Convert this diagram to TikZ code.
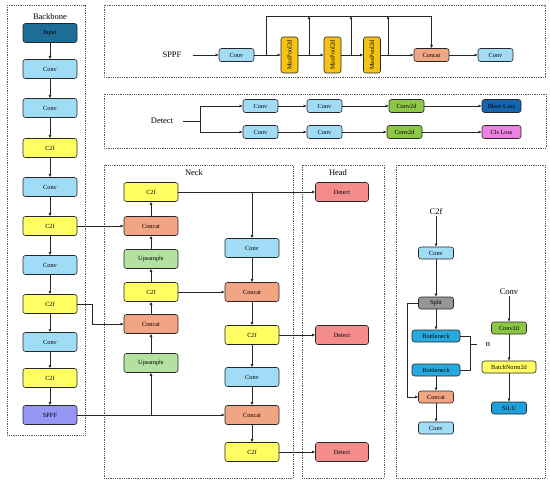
\documentclass[tikz,border=0pt]{standalone}
\usepackage{fontspec}
\setmainfont{Liberation Serif}
\usetikzlibrary{arrows.meta}
\definecolor{cinput}{RGB}{28,110,150}
\definecolor{cconv}{RGB}{160,220,245}
\definecolor{cctwof}{RGB}{255,255,100}
\definecolor{csppf}{RGB}{150,150,245}
\definecolor{cconcat}{RGB}{242,165,130}
\definecolor{cup}{RGB}{180,225,160}
\definecolor{cdet}{RGB}{245,140,140}
\definecolor{cmp}{RGB}{245,195,20}
\definecolor{cconvtd}{RGB}{140,200,70}
\definecolor{cbbox}{RGB}{20,100,175}
\definecolor{ccls}{RGB}{235,130,225}
\definecolor{csplit}{RGB}{150,150,150}
\definecolor{cbott}{RGB}{40,170,225}
\definecolor{csilu}{RGB}{30,160,220}
\tikzset{
  blk/.style={draw=black!85, line width=0.6pt, rounded corners=2.5pt, inner sep=0pt, font=\fontsize{6.3}{7}\selectfont},
  bb/.style={blk, minimum width=54pt, minimum height=19pt},
  sm/.style={blk, minimum width=35pt, minimum height=13pt},
  mp/.style={blk, fill=cmp, rotate=90, minimum width=36pt, minimum height=17pt},
  arr/.style={-{Latex[length=3.2pt,width=3.2pt]}, line width=0.6pt, draw=black!85},
  ln/.style={line width=0.6pt, draw=black!85},
  frame/.style={draw=gray!70!black, densely dotted, line width=0.8pt},
  lbl/.style={font=\fontsize{8.5}{9}\selectfont, inner sep=1pt}
}
\begin{document}
\begin{tikzpicture}[x=1pt,y=-1pt]
\useasboundingbox (0,0) rectangle (550,487);
% frames
\draw[frame] (7,5) rectangle (85,435);
\draw[frame] (104,5) rectangle (545,77);
\draw[frame] (104,94) rectangle (546,148);
\draw[frame] (104,165) rectangle (293,478);
\draw[frame] (302,165) rectangle (384,478);
\draw[frame] (396,165) rectangle (545,478);
\node[lbl] (lbb) at (50,17) {Backbone};
\node[lbl] (lneck) at (194,173) {Neck};
\node[lbl] (lhead) at (338,173) {Head};
% backbone
\node[bb, fill=cinput] (b1) at (50,33) {Input};
\node[bb, fill=cconv] (b2) at (50,69) {Conv};
\node[bb, fill=cconv] (b3) at (50,108) {Conv};
\node[bb, fill=cctwof] (b4) at (50,148) {C2f};
\node[bb, fill=cconv] (b5) at (50,187) {Conv};
\node[bb, fill=cctwof] (b6) at (50,226) {C2f};
\node[bb, fill=cconv] (b7) at (50,265) {Conv};
\node[bb, fill=cctwof] (b8) at (50,304) {C2f};
\node[bb, fill=cconv] (b9) at (50,342) {Conv};
\node[bb, fill=cctwof] (b10) at (50,378) {C2f};
\node[bb, fill=csppf] (b11) at (50,415) {SPPF};
\foreach \a/\b in {b1/b2,b2/b3,b3/b4,b4/b5,b5/b6,b6/b7,b7/b8,b8/b9,b9/b10,b10/b11}
  \draw[arr] (\a.south) -- (\b.north);
% neck
\node[bb, fill=cctwof] (n1) at (151,192) {C2f};
\node[bb, fill=cconcat] (n2) at (151,226) {Concat};
\node[bb, fill=cup] (n3) at (151,259) {Upsample};
\node[bb, fill=cctwof] (n4) at (151,292) {C2f};
\node[bb, fill=cconcat] (n5) at (151,324) {Concat};
\node[bb, fill=cup] (n6) at (151,363) {Upsample};
\node[bb, fill=cconv] (n7) at (252,248) {Conv};
\node[bb, fill=cconcat] (n8) at (252,292) {Concat};
\node[bb, fill=cctwof] (n9) at (252,335) {C2f};
\node[bb, fill=cconv] (n10) at (252,377) {Conv};
\node[bb, fill=cconcat] (n11) at (252,415) {Concat};
\node[bb, fill=cctwof] (n12) at (252,452) {C2f};
% head
\node[bb, fill=cdet, minimum width=53pt] (h1) at (342,192) {Detect};
\node[bb, fill=cdet, minimum width=53pt] (h2) at (342,335) {Detect};
\node[bb, fill=cdet, minimum width=53pt] (h3) at (342,452) {Detect};
% neck connections
\draw[arr] (b6.east) -- (n2.west);
\draw[arr] (b8.east) -- ++(15,0) |- (n5.west);
\draw[arr] (b11.east) -- (n11.west);
\draw[arr] (b11.east -| n6.south) -- (n6.south);
\draw[arr] (n6.north) -- (n5.south);
\draw[arr] (n5.north) -- (n4.south);
\draw[arr] (n4.north) -- (n3.south);
\draw[arr] (n3.north) -- (n2.south);
\draw[arr] (n2.north) -- (n1.south);
\draw[arr] (n4.east) -- (n8.west);
\draw[arr] (n1.east) -- (h1.west);
\draw[arr] (n1.east -| n7.north) -- (n7.north);
\draw[arr] (n7.south) -- (n8.north);
\draw[arr] (n8.south) -- (n9.north);
\draw[arr] (n9.east) -- (h2.west);
\draw[arr] (n9.south) -- (n10.north);
\draw[arr] (n10.south) -- (n11.north);
\draw[arr] (n11.south) -- (n12.north);
\draw[arr] (n12.east) -- (h3.west);
% SPPF panel
\node[lbl] (lsppf) at (172,55) {SPPF};
\coordinate (s0) at (193,55);
\node[sm, fill=cconv] (s1) at (236.5,55) {Conv};
\node[mp] (m1) at (289.5,55) {MaxPool2d};
\node[mp] (m2) at (332.5,55) {MaxPool2d};
\node[mp] (m3) at (372,55) {MaxPool2d};
\node[sm, fill=cconcat] (s2) at (431.5,55) {Concat};
\node[sm, fill=cconv] (s3) at (495.5,55) {Conv};
\draw[arr] (s0) -- (s1.west);
\draw[arr] (s1.east) -- (m1.north);
\draw[arr] (m1.south) -- (m2.north);
\draw[arr] (m2.south) -- (m3.north);
\draw[arr] (m3.south) -- (s2.west);
\draw[arr] (s2.east) -- (s3.west);
\coordinate (t0) at (266,55);
\coordinate (t0u) at (266,16);
\coordinate (t1) at (309,55);
\coordinate (t1u) at (309,16);
\coordinate (t2) at (351,55);
\coordinate (t2u) at (351,16);
\coordinate (t3) at (388,55);
\coordinate (t3u) at (388,16);
\draw[arr] (t0) -- (t0u) -| (s2.north);
\draw[arr] (t1) -- (t1u);
\draw[arr] (t2) -- (t2u);
\draw[arr] (t3) -- (t3u);
% Detect panel
\node[lbl] (ldet) at (162,121) {Detect};
\coordinate (d0) at (183,121);
\coordinate (d1) at (200,121);
\node[sm, fill=cconv] (r1a) at (260.5,106) {Conv};
\node[sm, fill=cconv] (r1b) at (324.5,106) {Conv};
\node[sm, fill=cconvtd] (r1c) at (406.5,106) {Conv2d};
\node[sm, fill=cbbox, minimum width=39pt] (r1d) at (501.5,106) {Bbox Loss};
\node[sm, fill=cconv] (r2a) at (260.5,132) {Conv};
\node[sm, fill=cconv] (r2b) at (324.5,132) {Conv};
\node[sm, fill=cconvtd] (r2c) at (404.5,132) {Conv2d};
\node[sm, fill=ccls, minimum width=39pt] (r2d) at (501.5,132) {Cls Loss};
\draw[ln] (d0) -- (d1);
\draw[arr] (d1) |- (r1a.west);
\draw[arr] (d1) |- (r2a.west);
\draw[arr] (r1a) -- (r1b);
\draw[arr] (r1b) -- (r1c);
\draw[arr] (r1c) -- (r1d);
\draw[arr] (r2a) -- (r2b);
\draw[arr] (r2b) -- (r2c);
\draw[arr] (r2c) -- (r2d);
% C2f detail
\node[lbl] (lc2f) at (436,212) {C2f};
\node[sm, fill=cconv, minimum height=12pt] (c1) at (436,253) {Conv};
\node[sm, fill=csplit, minimum height=12pt] (c2) at (436,303) {Split};
\node[sm, fill=cbott, minimum width=48pt, minimum height=12pt] (c3) at (436,336) {Bottleneck};
\node[sm, fill=cbott, minimum width=48pt, minimum height=12pt] (c4) at (436,370) {Bottleneck};
\node[sm, fill=cconcat, minimum height=12pt] (c5) at (436,397) {Concat};
\node[sm, fill=cconv, minimum height=12pt] (c6) at (436,428) {Conv};
\draw[arr] (lc2f.south) -- (c1.north);
\draw[arr] (c1.south) -- (c2.north);
\draw[arr] (c2.south) -- (c3.north);
\draw[arr] (c4.south) -- (c5.north);
\draw[arr] (c5.south) -- (c6.north);
\draw[arr] (c2.west) -- ++(-11,0) |- (c5.west);
\draw[ln] (c3.east) -- ++(10,0) |- (c4.east);
\coordinate (nb0) at (470,344);
\coordinate (nb1) at (477,344);
\draw[ln] (nb0) -- (nb1);
\node[lbl] (ln) at (488,344) {n};
% Conv detail
\node[lbl] (lconv) at (509,292) {Conv};
\node[sm, fill=cconvtd, minimum height=12pt] (k1) at (509,328) {Conv2d};
\node[sm, fill=cctwof, minimum width=54pt, minimum height=12pt] (k2) at (509,367) {BatchNorm2d};
\node[sm, fill=csilu, minimum height=12pt] (k3) at (509,408) {SiLU};
\draw[arr] (lconv.south) -- (k1.north);
\draw[arr] (k1.south) -- (k2.north);
\draw[arr] (k2.south) -- (k3.north);
\end{tikzpicture}
\end{document}
